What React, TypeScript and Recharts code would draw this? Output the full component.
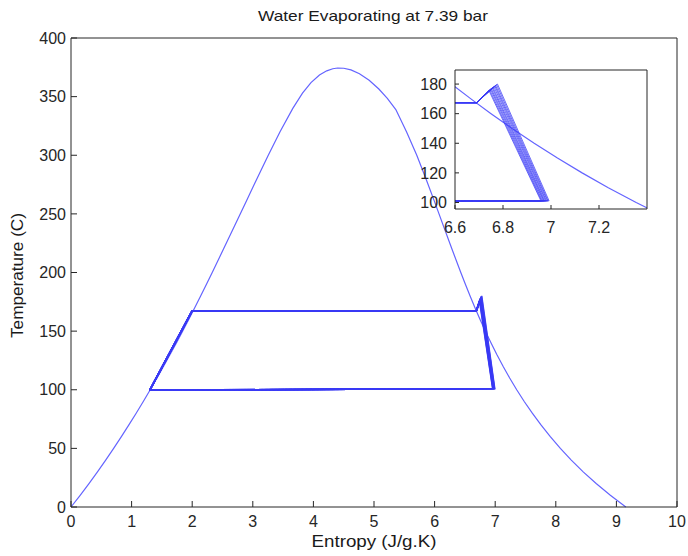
import { LineChart, Line, XAxis, YAxis, CartesianGrid } from 'recharts';

// saturation dome (entropy J/g.K, temperature C)
const domeS = [
    0, 0.1511, 0.2965, 0.4368, 0.5724, 0.7038, 0.8313, 0.9551, 1.0756, 1.1929, 1.3072, 1.4188,
    1.5279, 1.6346, 1.7392, 1.8418, 1.9426, 2.0417, 2.1392, 2.2355, 2.3305, 2.5165, 2.702, 2.8849,
    3.0685, 3.2552, 3.4494, 3.6601, 3.82, 3.96, 4.1, 4.22, 4.32, 4.4, 4.5, 4.62, 4.76, 4.92, 5.08,
    5.22, 5.36, 5.5362, 5.7059, 5.8571, 6.0019, 6.1437, 6.2861, 6.4323, 6.5079, 6.5857, 6.6663,
    6.7502, 6.8379, 6.9299, 7.0269, 7.1296, 7.2387, 7.3549, 7.4791, 7.6122, 7.7553, 7.9094,
    8.0753, 8.2557, 8.452, 8.6661, 8.8999, 9.1556,
];
const domeT = [
    0, 10, 20, 30, 40, 50, 60, 70, 80, 90, 100, 110, 120, 130, 140, 150, 160, 170, 180, 190, 200,
    220, 240, 260, 280, 300, 320, 340, 353, 362, 368.5, 372, 373.8, 374.4, 374.2, 372.8, 369.5, 364,
    356.5, 348.5, 339, 320, 300, 280, 260, 240, 220, 200, 190, 180, 170, 160, 150, 140, 130, 120,
    110, 100, 90, 80, 70, 60, 50, 40, 30, 20, 10, 0,
];

// fixed part of the cycle: liquid in, evaporator start, evaporator end
const cycleS = [1.3, 2.0, 6.69];
const cycleT = [99.6, 167.4, 167.4];

// iterations: superheat peak and expansion end
const peakS = [6.741, 6.744, 6.748, 6.751, 6.755, 6.758, 6.762, 6.766, 6.769, 6.773, 6.777];
const peakT = [175.8, 176.2, 176.6, 177.0, 177.4, 177.8, 178.3, 178.7, 179.1, 179.6, 180.0];
const outS = [6.958, 6.961, 6.964, 6.968, 6.971, 6.974, 6.978, 6.981, 6.985, 6.988, 6.992];
const outT = [101.1, 101.1, 101.1, 101.1, 101.1, 101.1, 101.1, 101.1, 101.1, 101.1, 101.1];

const mainXTicks = [0, 1, 2, 3, 4, 5, 6, 7, 8, 9, 10];
const mainYTicks = [0, 50, 100, 150, 200, 250, 300, 350, 400];
const insetXTicks = [6.6, 6.8, 7, 7.2];
const insetYTicks = [100, 120, 140, 160, 180];

const dome = domeS.map((s, i) => ({ s, t: domeT[i] }));
const cycles = peakS.map((ps, k) => [
    { s: cycleS[0], t: cycleT[0] },
    { s: cycleS[1], t: cycleT[1] },
    { s: cycleS[2], t: cycleT[2] },
    { s: ps, t: peakT[k] },
    { s: outS[k], t: outT[k] },
    { s: cycleS[0], t: cycleT[0] },
]);

const FONT = '"Liberation Sans", Arial, sans-serif';
const tickStyle = { fontSize: 16, fill: '#262626', fontFamily: FONT };
const AX = '#262626';
const DOME = '#6464ff';
const CYCLE = '#3a3af5';

function renderLines(cycleWidth: number, cycleOpacity: number) {
    return [
        <Line
            key="dome"
            data={dome}
            dataKey="t"
            stroke={DOME}
            strokeWidth={1.2}
            dot={false}
            activeDot={false}
            isAnimationActive={false}
        />,
        ...cycles.map((c, k) => (
            <Line
                key={'c' + k}
                data={c}
                dataKey="t"
                stroke={CYCLE}
                strokeWidth={cycleWidth}
                strokeOpacity={cycleOpacity}
                dot={false}
                activeDot={false}
                isAnimationActive={false}
            />
        )),
    ];
}

export default function App() {
    return (
        <div style={{ position: 'absolute', left: 0, top: 0, width: 688, height: 556, background: '#fff' }}>
            <div style={{ position: 'absolute', left: 0, top: 0 }}>
                <LineChart width={688} height={556} margin={{ top: 37, right: 10, bottom: 0, left: 0 }}>
                    <XAxis
                        dataKey="s"
                        type="number"
                        domain={[0, 10]}
                        ticks={mainXTicks}
                        height={49}
                        tickSize={-6}
                        tickMargin={15}
                        tick={tickStyle}
                        stroke={AX}
                    />
                    <XAxis
                        xAxisId="top"
                        orientation="top"
                        dataKey="s"
                        type="number"
                        domain={[0, 10]}
                        ticks={mainXTicks}
                        height={1}
                        tickSize={-6}
                        tick={false}
                        stroke={AX}
                    />
                    <YAxis
                        type="number"
                        domain={[0, 400]}
                        ticks={mainYTicks}
                        width={71}
                        tickSize={-6}
                        tickMargin={11}
                        tick={tickStyle}
                        stroke={AX}
                    />
                    <YAxis
                        yAxisId="r"
                        orientation="right"
                        type="number"
                        domain={[0, 400]}
                        ticks={mainYTicks}
                        width={1}
                        tickSize={-6}
                        tick={false}
                        stroke={AX}
                    />
                    {renderLines(1.6, 0.85)}
                </LineChart>
            </div>
            <div style={{ position: 'absolute', left: 405, top: 60 }}>
                <LineChart width={250} height={179} margin={{ top: 9, right: 7, bottom: 0, left: 0 }}>
                    <CartesianGrid horizontal={false} vertical={false} fill="#fff" fillOpacity={1} />
                    <XAxis
                        dataKey="s"
                        type="number"
                        domain={[6.6, 7.4]}
                        allowDataOverflow
                        ticks={insetXTicks}
                        height={30}
                        tickSize={-4}
                        tickMargin={17}
                        tick={tickStyle}
                        stroke={AX}
                    />
                    <XAxis
                        xAxisId="top"
                        orientation="top"
                        dataKey="s"
                        type="number"
                        domain={[6.6, 7.4]}
                        allowDataOverflow
                        ticks={insetXTicks}
                        height={1}
                        tickSize={-4}
                        tick={false}
                        stroke={AX}
                    />
                    <YAxis
                        type="number"
                        domain={[95.6, 189.5]}
                        allowDataOverflow
                        ticks={insetYTicks}
                        width={50}
                        tickSize={-4}
                        tickMargin={12}
                        tick={tickStyle}
                        stroke={AX}
                    />
                    <YAxis
                        yAxisId="r"
                        orientation="right"
                        type="number"
                        domain={[95.6, 189.5]}
                        allowDataOverflow
                        ticks={insetYTicks}
                        width={1}
                        tickSize={-4}
                        tick={false}
                        stroke={AX}
                    />
                    {renderLines(1, 0.75)}
                </LineChart>
            </div>
            <svg
                width={688}
                height={556}
                style={{ position: 'absolute', left: 0, top: 0, pointerEvents: 'none' }}
            >
                <text x={373} y={21} textAnchor="middle" fontSize={15} fontFamily={FONT} fill="#1a1a1a" textLength={230} lengthAdjust="spacingAndGlyphs">
                    Water Evaporating at 7.39 bar
                </text>
                <text x={374} y={547} textAnchor="middle" fontSize={16} fontFamily={FONT} fill="#1a1a1a" textLength={125} lengthAdjust="spacingAndGlyphs">
                    Entropy (J/g.K)
                </text>
                <text
                    x={0}
                    y={0}
                    transform="translate(22.5,275.5) rotate(-90)"
                    textAnchor="middle"
                    fontSize={16}
                    fontFamily={FONT}
                    fill="#1a1a1a"
                    textLength={125}
                    lengthAdjust="spacingAndGlyphs"
                >
                    Temperature (C)
                </text>
            </svg>
        </div>
    );
}
